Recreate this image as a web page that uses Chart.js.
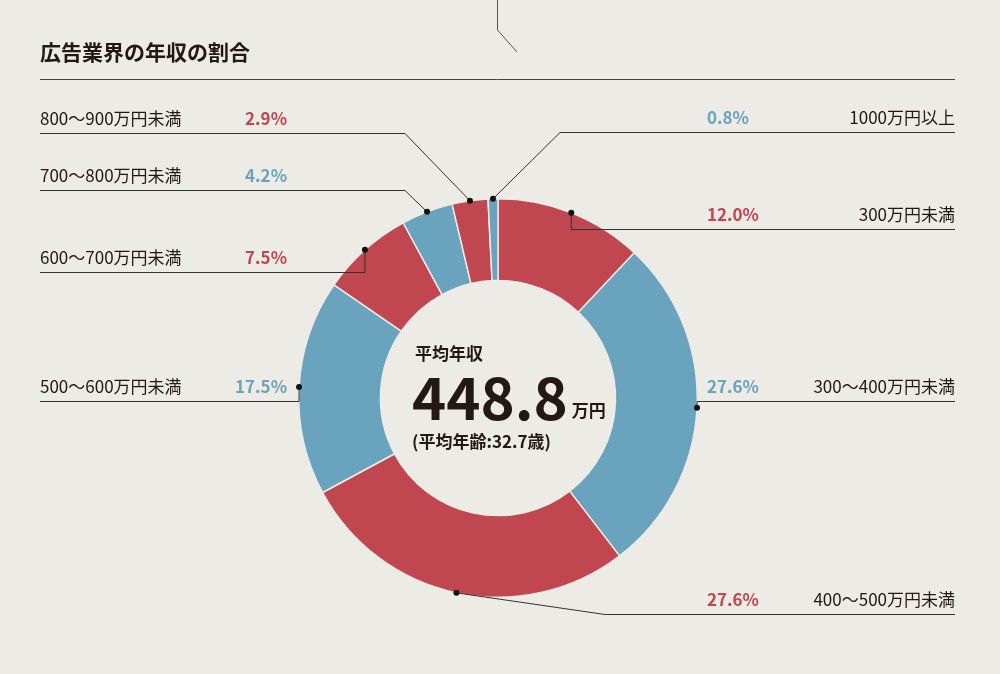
<!DOCTYPE html>
<html>
<head>
<meta charset="utf-8">
<script src="https://cdn.jsdelivr.net/npm/chart.js@4"></script>
<style>
  html, body { margin: 0; padding: 0; background: #edebe5; }
  #wrap { width: 1000px; height: 674px; position: relative; }
</style>
</head>
<body>
<div id="wrap"><canvas id="incomeChart" width="1000" height="674"></canvas></div>
<script>
// data, clockwise from 12 o'clock
const categories = ['300万円未満', '300〜400万円未満', '400〜500万円未満', '500〜600万円未満',
                    '600〜700万円未満', '700〜800万円未満', '800〜900万円未満', '1000万円以上'];
const shares = [12.0, 27.6, 27.6, 17.5, 7.5, 4.2, 2.9, 0.8];
const shareLabels = ['12.0%', '27.6%', '27.6%', '17.5%', '7.5%', '4.2%', '2.9%', '0.8%'];
const avgIncome = '448.8';
const avgAge = '32.7';

const RED = '#c0474f';
const BLUE = '#6aa3bd';
const INK = '#231815';
const BG = '#edebe5';
const FONT = '"Noto Sans CJK JP", "Noto Sans", sans-serif';

const sliceColors = shares.map((v, i) => i % 2 === 0 ? RED : BLUE);

// label rows: side, baseline of the underline, elbow x
const labelLayout = [
    { side: 'R', y: 229, elbow: null },
    { side: 'R', y: 401, elbow: null },
    { side: 'R', y: 614, elbow: 605 },
    { side: 'L', y: 401, elbow: null },
    { side: 'L', y: 272, elbow: null },
    { side: 'L', y: 190, elbow: 405 },
    { side: 'L', y: 133, elbow: 405 },
    { side: 'R', y: 132, elbow: 560 }
];

const decorPlugin = {
    id: 'decor',
    beforeDraw(chart) {
        const c = chart.ctx;
        c.save();
        c.fillStyle = BG;
        c.fillRect(0, 0, chart.width, chart.height);
        c.strokeStyle = '#555';
        c.lineWidth = 1;
        c.beginPath();
        c.moveTo(497.5, 0); c.lineTo(497.5, 30); c.lineTo(517, 52);
        c.stroke();
        c.fillStyle = INK;
        c.font = 'bold 21px ' + FONT;
        c.textBaseline = 'alphabetic';
        c.fillText('広告業界の年収の割合', 40, 60);
        c.strokeStyle = '#444';
        c.beginPath();
        c.moveTo(40, 79.5); c.lineTo(955, 79.5);
        c.stroke();
        c.restore();
    },
    afterDraw(chart) {
        const c = chart.ctx;
        const arcs = chart.getDatasetMeta(0).data;
        c.save();
        arcs.forEach((arc, i) => {
            const lay = labelLayout[i];
            const mid = (arc.startAngle + arc.endAngle) / 2;
            const dx = arc.x + Math.cos(mid) * arc.outerRadius;
            const dy = arc.y + Math.sin(mid) * arc.outerRadius;
            const ly = lay.y + 0.5;
            c.strokeStyle = '#333';
            c.lineWidth = 1;
            c.beginPath();
            if (lay.side === 'L') {
                c.moveTo(40, ly);
                const ex = lay.elbow || dx;
                c.lineTo(ex, ly);
                c.lineTo(dx, dy);
            } else {
                c.moveTo(955, ly);
                const ex = lay.elbow || dx;
                c.lineTo(ex, ly);
                c.lineTo(dx, dy);
            }
            c.stroke();
            c.fillStyle = '#111';
            c.beginPath();
            c.arc(dx, dy, 3, 0, Math.PI * 2);
            c.fill();

            const ty = lay.y - 8;
            c.textBaseline = 'alphabetic';
            c.font = '17px ' + FONT;
            c.fillStyle = INK;
            if (lay.side === 'L') {
                c.textAlign = 'left';
                c.fillText(categories[i], 40, ty);
                c.textAlign = 'right';
                c.font = 'bold 17px ' + FONT;
                c.fillStyle = sliceColors[i];
                c.fillText(shareLabels[i], 287, ty);
            } else {
                c.textAlign = 'right';
                c.fillText(categories[i], 955, ty);
                c.textAlign = 'left';
                c.font = 'bold 17px ' + FONT;
                c.fillStyle = sliceColors[i];
                c.fillText(shareLabels[i], 707, ty);
            }
        });

        // center text
        const cx = arcs[0].x, cy = arcs[0].y;
        c.fillStyle = INK;
        c.textAlign = 'left';
        c.font = 'bold 17px ' + FONT;
        c.fillText('平均年収', cx - 83, cy - 38);
        c.font = 'bold 58px ' + FONT;
        c.fillText(avgIncome, cx - 86, cy + 22);
        const w = c.measureText(avgIncome).width;
        c.font = 'bold 17px ' + FONT;
        c.fillText('万円', cx - 86 + w + 4, cy + 19);
        c.font = 'bold 17px ' + FONT;
        c.fillText('(平均年齢:' + avgAge + '歳)', cx - 86, cy + 50);
        c.restore();
    }
};

new Chart(document.getElementById('incomeChart').getContext('2d'), {
    type: 'doughnut',
    data: {
        labels: categories,
        datasets: [{
            data: shares,
            backgroundColor: sliceColors,
            borderColor: BG,
            borderWidth: 1.5,
            cutout: '59%'
        }]
    },
    options: {
        responsive: false,
        animation: false,
        layout: { padding: { left: 298, right: 302, top: 198, bottom: 76 } },
        plugins: {
            legend: { display: false },
            tooltip: { enabled: false }
        }
    },
    plugins: [decorPlugin]
});
</script>
</body>
</html>
